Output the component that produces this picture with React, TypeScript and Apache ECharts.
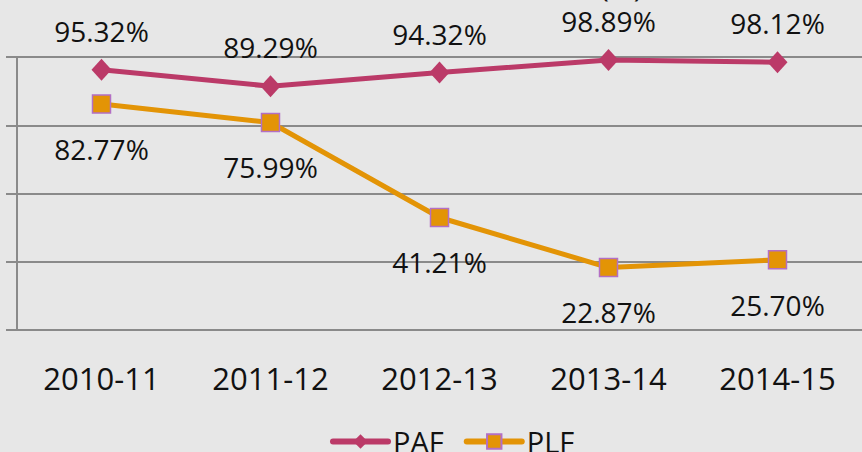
import React, { useEffect, useRef } from "react";
import * as echarts from "echarts";

const categories = ["2010-11", "2011-12", "2012-13", "2013-14", "2014-15"];
const pafValues = [95.32, 89.29, 94.32, 98.89, 98.12];
const plfValues = [82.77, 75.99, 41.21, 22.87, 25.7];
const yTicks = { min: 0, max: 100, interval: 25 };

const FONT = "'Open Sans', 'Noto Sans', sans-serif";
const PAF_COLOR = "#bb3a68";
const PLF_COLOR = "#e39406";

export default function App() {
  const ref = useRef<HTMLDivElement>(null);
  useEffect(() => {
    if (!ref.current) return;
    const chart = echarts.init(ref.current, null, { renderer: "svg" });
    const gridColor = "#8a8a8a";
    const fmt = (p: any) => p.value.toFixed(2) + "%";
    chart.setOption({
      animation: false,
      backgroundColor: "#e7e7e7",
      textStyle: { fontFamily: FONT },
      graphic: [
        {
          type: "text",
          left: 600,
          top: -30,
          style: { text: "(%)", fontSize: 30, fontFamily: FONT, fill: "#111" },
        },
      ],
      grid: { left: 17, top: 57, width: 850, bottom: 122, containLabel: false },
      legend: {
        bottom: -9,
        left: 325,
        itemWidth: 55,
        itemHeight: 18,
        itemGap: 20,
        textStyle: { fontSize: 29, color: "#111", fontFamily: FONT },
        data: [
          { name: "PAF", lineStyle: { width: 6, cap: "round" } },
          { name: "PLF", lineStyle: { width: 6, cap: "round" } },
        ],
      },
      xAxis: {
        type: "category",
        data: categories,
        boundaryGap: true,
        axisLine: { show: true, lineStyle: { color: gridColor, width: 2 } },
        axisTick: { show: false },
        axisLabel: { fontSize: 31, color: "#111", margin: 32, fontFamily: FONT },
        splitLine: { show: false },
      },
      yAxis: {
        type: "value",
        min: yTicks.min,
        max: yTicks.max,
        interval: yTicks.interval,
        axisLine: { show: true, lineStyle: { color: gridColor, width: 2 } },
        axisTick: { show: true, length: 11, lineStyle: { color: gridColor, width: 2 } },
        axisLabel: { show: false },
        splitLine: { show: true, lineStyle: { color: gridColor, width: 2 } },
      },
      series: [
        {
          name: "PAF",
          type: "line",
          data: pafValues,
          symbol: "diamond",
          symbolSize: [20, 22],
          lineStyle: { color: PAF_COLOR, width: 5 },
          itemStyle: { color: PAF_COLOR },
          label: {
            show: true,
            position: "top",
            distance: 14,
            fontSize: 28,
            color: "#111",
            fontFamily: FONT,
            formatter: fmt,
          },
        },
        {
          name: "PLF",
          type: "line",
          data: plfValues,
          symbol: "rect",
          symbolSize: 18,
          lineStyle: { color: PLF_COLOR, width: 5 },
          itemStyle: { color: PLF_COLOR, borderColor: "#b36fc4", borderWidth: 1.5 },
          label: {
            show: true,
            position: "bottom",
            distance: 21,
            fontSize: 28,
            color: "#111",
            fontFamily: FONT,
            formatter: fmt,
          },
        },
      ],
    });
    return () => chart.dispose();
  }, []);
  return (
    <div
      ref={ref}
      style={{ position: "absolute", left: 0, top: 0, width: 862, height: 452 }}
    />
  );
}
